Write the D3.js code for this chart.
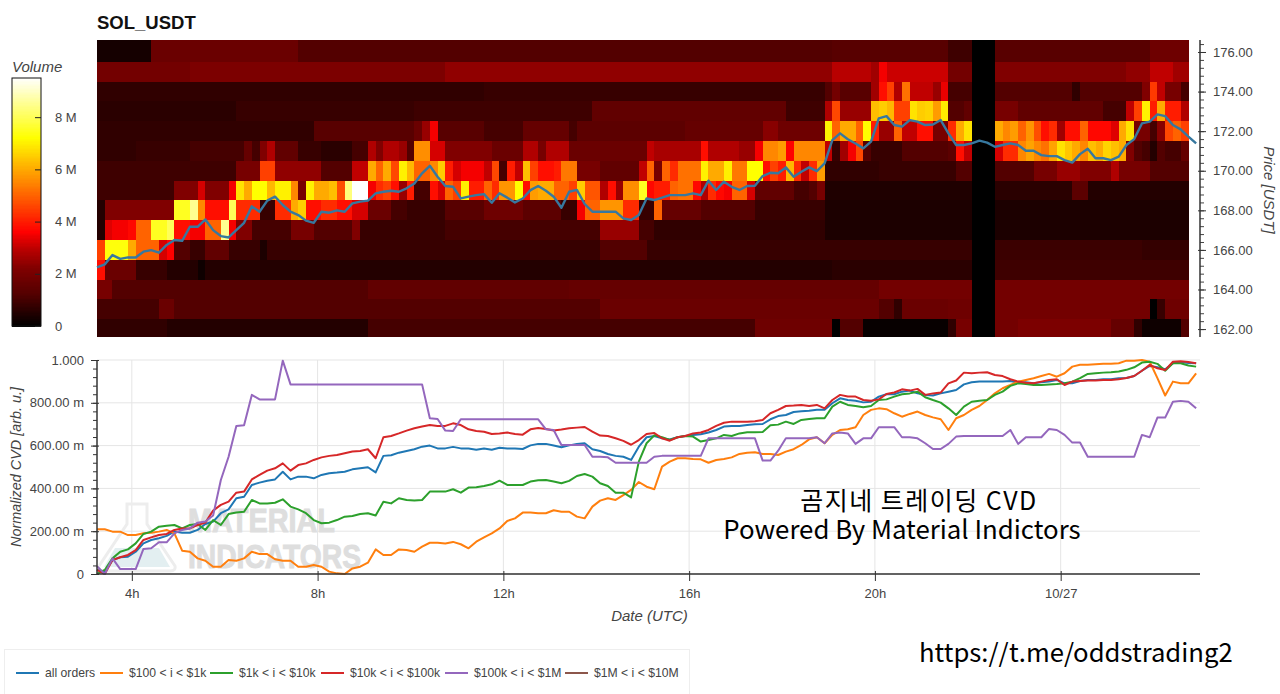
<!DOCTYPE html>
<html>
<head>
<meta charset="utf-8">
<script src="https://d3js.org/d3.v7.min.js"></script>
<style>
  body { margin: 0; background: #fff; }
  svg { display: block; }
  text { font-family: "Liberation Sans", Arial, sans-serif; }
  .axis-label { font-style: italic; font-size: 15px; fill: #444; }
  .tick text { font-size: 13px; fill: #444; font-family: "Liberation Sans", Arial, sans-serif; }
</style>
</head>
<body>
<svg id="chart" width="1280" height="694"></svg>
<script>
// volume per price level in millions, 10 min columns. a [n, v] pair is n columns in a row at v
var vol176 = [[7,.3],[19,1.7],[69,1.2],[15,1.3],[3,.9],[3,0],[20,1.3],[5,1.8]];
var vol175 = [[12,1.9],[33,2.1],[50,2.4],[5,2.9],2.6,3.5,[8,3.1],[3,1.9],[3,0],[17,2.2],[3,2.4],[3,3],[2,2.6]];
var vol174 = [[50,.7],[44,.8],1.2,1.9,[4,1.3],2.6,3.8,4.5,2.8,5.2,[3,3],2.5,3.4,[3,1],[3,0],[10,1.2],.7,[8,1.2],2.2,4.4,3,[2,2],1];
var vol173 = [[18,.6],[23,.8],[23,.9],[25,1.5],[5,.9],2.8,4.6,[4,2.5],6.3,6.5,6.2,4.5,4.5,6.8,6.5,6.6,5.8,6.9,1.2,1.2,1.5,[3,0],[3,2],[11,1.5],[3,1],3,4.5,7,4,6,4,4,2.8];
var vol172 = [[28,.7],[13,1.3],1.7,2.5,3.5,[6,1.3],[5,1],[6,1.6],1,[14,1.4],[10,1.6],2.3,2.3,[6,1.8],7,5,6,6,5,7.2,4,2.5,2.5,5,3,3,3.8,3.8,2,2,4.2,6,6.8,[3,0],6,5.5,5.8,5,5.7,4.7,3.8,4.2,2.6,3.8,3.8,5,3.7,3.7,3.7,3.3,6,6.8,2,2,1,2.3,4.6,5,4.5];
var vol171 = [[5,.7],[7,.8],[7,1],1.6,1,2.2,2.8,[3,1.5],[3,.8],[4,.6],[2,1],2.8,2.2,2.8,2.8,2.5,1.2,5.6,5.6,3.2,3.2,[6,2.2],[4,1.7],2.8,2.8,2,[3,2.8],[10,1.7],3,[6,2.7],3.8,[4,2.8],2.5,2.5,3.5,5.5,5.5,5.8,3.6,[3,5.5],5.5,3,.8,2.6,3.5,4.6,1.2,.8,[3,.8],[6,1.2],1.4,3.8,3,[3,0],3.2,4.2,4.2,5.5,5.9,5.5,5.2,5.9,6.8,6.4,6,5.5,6.3,6,6.6,6.3,6,2.2,1.2,1,.5,1.2,1,1,1.6];
var vol170 = [[18,.9],[3,2],4.5,4.5,[6,2.4],[4,1.2],3,3,6,5,6,4.6,7,6.2,5,5,5.5,6.5,4,3.2,[3,3.5],3,4.6,1,4,3,6.3,4.5,3.8,3.8,4,5.3,5.3,[3,2],[5,1.5],3,5,2,5,4.2,[3,5.2],7,6,6,7,5.3,5.3,7.2,7.2,3.8,4.5,4,6.2,4.2,3,4.2,5.8,[7,.7],[10,.8],1.2,1.2,[3,0],[5,1.2],[3,2],[3,2.5],[4,2.2],2.8,[4,2],[5,1.2]];
var vol169 = [[10,.9],[3,2.2],3.2,[3,2.2],3.5,6.8,6,7.2,7.2,6.2,7,7,5.5,2,7,6,6,6.3,4.7,8.3,9.5,9.5,3.5,4.2,4.5,3.8,2.5,4,1,1,3.8,3.2,5,4.5,7,4,4,5,4.2,5.7,5.7,7.2,3.8,5.8,6,6,5,5,4.5,6.5,4.8,4.8,2.8,3.8,2.5,5.6,5.6,7.5,3.7,4,4,5,5.2,5.2,3.7,2.8,4.2,3.7,3.5,5,5,3.2,[5,1.5],1,1,1.2,2,[19,.45],[3,0],[10,.6],1.4,1.4,[13,.5]];
var vol168 = [.5,[9,2.2],7.5,7.5,8.5,5.5,[3,3.8],8,[3,4.2],.8,.8,4.2,4.2,6,6.5,3.8,3.8,4.2,4.2,3.8,3.8,3.2,3.2,[3,1.7],1,1,[5,.8],[5,1.3],[5,1.8],[5,1.4],.8,.8,3.5,5,5,[3,5.7],4.2,4.2,.8,.8,5,[5,1.6],[7,1.2],[9,.8],[19,.4],[3,0],[25,.4]];
var vol167 = [.5,3.3,3.5,3.5,3.7,5,5,7.5,7.5,8,3.8,3.8,3.5,3.5,5,5,8.5,3.5,2.2,2.2,[5,1],[3,2],[5,1.2],2.2,[11,.8],[20,1],[5,2.5],1,1,[22,.7],[19,.4],[3,0],[25,.4]];
var vol166 = [4.5,[3,7.3],6,[3,5],3.2,3.6,1.2,1.2,.8,.8,[3,1.5],[4,.8],.4,[43,.8],[6,1.2],[42,.8],[3,0],[19,.85],[6,.75]];
var vol165 = [3.8,[4,1.7],[4,.8],[4,.5],.2,[81,.5],[18,.6],[3,0],[25,.9]];
var vol164 = [2,2,[33,1.2],[26,1.5],[40,1.6],[12,1.9],[3,0],[25,1.9]];
var vol163 = [[8,1],1.7,1.7,[55,1.2],[36,1.7],1.2,1.2,.7,[6,1.7],[3,1.8],[3,0],[20,1.9],0,.8,[3,1.8]];
var vol162 = [[9,.7],[26,.5],[50,1],[10,1.8],0,[3,1.2],.1,.1,[9,.1],.7,2,2,[3,0],[3,1.9],[12,2.1],[3,1.6],.7,[5,.2],1.2];

var priceLevels = [176,175,174,173,172,171,170,169,168,167,166,165,164,163,162];
var volumeRows = [vol176,vol175,vol174,vol173,vol172,vol171,vol170,vol169,vol168,vol167,vol166,vol165,vol164,vol163,vol162];

// last price, one reading per 10 min
var priceValues = [165.12,165.27,165.74,165.55,165.62,165.62,165.91,165.99,165.86,166.25,166.5,166.46,167.17,167.17,167.54,167,166.7,166.63,167,167.37,168.2,167.93,168.49,168.69,168.27,167.93,167.76,167.48,167.37,167.93,167.88,168,167.93,168.35,168.44,168.49,168.86,168.94,168.99,168.94,169.11,169.36,169.87,170.25,169.7,169.23,169.19,168.6,168.69,168.77,168.82,
  168.38,168.86,168.64,168.4,168.6,169.02,169.23,168.99,168.69,168.13,168.94,169.03,168.32,167.93,167.93,167.93,167.93,167.59,167.51,167.76,168.6,168.52,168.64,168.77,168.77,168.77,168.86,168.77,169.5,169.03,169.45,169.19,169.03,169.23,169.24,169.73,169.9,169.87,170.17,169.7,169.95,170.17,169.98,170.37,171.55,171.89,171.59,171.38,171.13,171.47,
  172.65,172.76,172.31,172.23,172.56,172.48,172.31,172.34,172.56,171.89,171.3,171.3,171.38,171.52,171.42,171.21,171.3,171.38,171.3,171.01,171.01,170.79,170.74,170.74,170.54,170.41,170.84,171.11,170.63,170.63,170.54,170.71,171.3,171.6,172.39,172.48,172.85,172.76,172.31,172.09,171.72,171.38];

// normalized CVD in milli units, one reading per 10 min
var cvdAll = [19,11,65,78,81,104,143,159,167,178,198,193,193,206,234,245,284,302,354,361,416,427,436,442,478,442,455,455,447,463,471,474,478,489,494,499,475,552,555,567,575,583,
  595,600,587,587,594,587,586,581,586,581,590,587,586,584,601,608,608,600,592,601,608,611,583,575,561,552,548,533,595,639,645,634,629,639,645,650,653,661,673,689,692,692,696,700,701,723,738,743,757,760,763,767,
  767,798,821,813,810,802,805,829,840,840,852,857,844,837,834,844,852,860,886,896,899,899,900,899,902,894,896,891,896,900,907,891,891,902,907,907,910,910,915,916,925,950,972,966,957,985,991,986,985];
var cvd100 = [209,209,198,198,182,182,190,193,198,206,190,109,104,73,62,34,34,65,62,73,104,93,93,69,62,62,34,34,42,34,11,3,0,26,34,53,115,89,89,115,112,104,
  128,146,146,143,150,139,120,151,171,190,213,248,260,287,287,284,284,298,291,291,268,260,315,343,354,346,369,393,430,408,396,502,525,541,541,537,536,520,533,537,545,561,567,569,561,561,556,572,583,603,629,639,
  611,650,673,676,686,743,767,774,770,751,735,748,759,743,732,723,673,728,743,767,785,813,844,868,883,899,907,915,925,935,922,938,969,978,978,980,982,982,985,997,997,1000,992,915,834,899,891,891,938];
var cvd1k = [0,19,73,104,115,143,187,198,221,226,229,213,229,234,206,252,229,280,287,291,346,330,330,333,349,315,302,284,252,237,240,252,268,271,280,284,273,338,330,354,346,343,
  346,385,385,385,396,380,404,405,411,419,436,416,416,416,432,438,439,432,424,435,458,467,455,424,411,380,380,358,525,611,648,639,626,639,645,642,619,626,634,650,645,657,662,662,664,695,698,712,701,720,724,728,
  728,782,805,790,785,779,785,813,816,829,840,844,852,826,813,801,774,743,782,805,810,813,837,852,879,891,888,883,883,886,888,891,899,915,935,938,941,943,946,954,966,988,992,982,950,985,985,974,969];
var cvd10k = [19,0,65,78,89,112,159,171,182,187,206,213,213,229,240,296,323,338,380,385,442,463,483,494,517,483,509,517,533,545,552,556,564,572,575,583,541,639,645,657,670,681,
  689,696,692,692,704,696,676,668,665,654,657,661,654,651,676,682,678,671,675,681,684,687,665,647,645,634,622,604,626,654,659,634,623,639,645,657,661,673,692,707,712,712,712,714,720,751,767,785,787,790,785,790,
  774,813,837,829,829,813,810,816,841,848,863,857,865,837,844,848,891,904,941,938,941,943,930,925,910,899,894,891,899,907,910,883,899,902,904,904,907,907,910,916,925,950,977,961,953,992,994,991,985];
var cvd100k = [37,0,73,23,23,23,117,120,148,148,190,206,213,240,245,273,439,548,692,695,837,816,816,816,997,886,886,886,886,886,886,886,886,886,886,886,886,886,886,886,886,886,
  886,728,724,670,668,723,723,723,723,723,723,723,723,723,723,723,676,673,603,603,603,603,548,548,545,520,520,520,520,520,548,552,552,552,552,552,552,634,634,634,634,634,634,634,530,530,576,634,634,634,634,639,
  611,657,661,657,608,634,634,686,686,686,639,639,634,611,584,584,608,642,645,645,645,645,645,645,673,608,639,639,639,678,673,650,614,614,548,548,548,548,548,548,548,650,639,731,731,805,809,805,774];

var cvdSeries = [cvdAll, cvd100, cvd1k, cvd10k, cvd100k];
var legendNames = ["all orders", "$100 < i < $1k", "$1k < i < $10k", "$10k < i < $100k", "$100k < i < $1M", "$1M < i < $10M"];
var seriesColors = ["#1f77b4", "#ff7f0e", "#2ca02c", "#d62728", "#9467bd", "#8c564b"];

var hourTicks = [4, 8, 12, 16, 20, 24];
var hourLabels = ["4h", "8h", "12h", "16h", "20h", "10/27"];
var priceTicks = [162,164,166,168,170,172,174,176];
var cvdTicks = [0,200,400,600,800,1000];
var volumeTicks = [0,2,4,6,8];

var columnMinutes = 10;
var startTime = Date.UTC(2024, 9, 26, 3, 15);
var colTime = function(i) { return new Date(startTime + i * columnMinutes * 60000); };

var svg = d3.select("#chart");

var xScale = d3.scaleUtc()
  .domain([new Date(startTime), new Date(Date.UTC(2024, 9, 27, 3, 0))])
  .range([97, 1200]);
var priceTop = 176.606;
var priceY = d3.scaleLinear().domain([161.6, priceTop]).range([337, 40]);
var cvdY = d3.scaleLinear().domain([0, 1000]).range([574, 360]);
var volumeY = d3.scaleLinear().domain([0, 9.5]).range([326, 78]);
var hotColor = d3.scaleLinear()
  .domain([0, 1.2, 2.2, 3, 3.6, 7.2, 9.5])
  .range(["#000000", "#530000", "#800000", "#c00000", "#ff0000", "#ffff00", "#ffffff"]);

var hourDate = function(h) { return new Date(Date.UTC(2024, 9, 26, h)); };

// ---------- heatmap ----------
svg.append("clipPath").attr("id", "heatClip").append("rect")
  .attr("x", 97).attr("y", 40).attr("width", 1103).attr("height", 297);

var heatCells = [];
volumeRows.forEach(function(row, r) {
  var values = row.flatMap(function(d) {
    return Array.isArray(d) ? d3.range(d[0]).map(function() { return d[1]; }) : [d];
  });
  values.forEach(function(v, c) {
    heatCells.push({ price: priceLevels[r], col: c, volume: v });
  });
});

// the top row runs up to the end of the price range
var cellTop = function(d) { return d.price === 176 ? priceY(priceTop) : priceY(d.price + 0.5); };

svg.append("g").attr("clip-path", "url(#heatClip)")
  .attr("shape-rendering", "crispEdges")
  .selectAll("rect")
  .data(heatCells)
  .enter()
  .append("rect")
  .attr("x", function(d) { return xScale(colTime(d.col)); })
  .attr("y", cellTop)
  .attr("width", function(d) { return xScale(colTime(d.col + 1)) - xScale(colTime(d.col)) + 0.5; })
  .attr("height", function(d) { return priceY(d.price - 0.5) - cellTop(d) + 0.5; })
  .attr("fill", function(d) { return hotColor(d.volume); });

// price line
var priceLine = d3.line()
  .x(function(d, i) { return xScale(colTime(i)); })
  .y(function(d) { return priceY(d); });

svg.append("path")
  .datum(priceValues)
  .attr("d", priceLine)
  .attr("fill", "none")
  .attr("stroke", "#37789f")
  .attr("stroke-width", 2.4)
  .attr("stroke-linejoin", "round");

// right axis with minor ticks
var priceMinor = d3.axisRight(priceY)
  .tickValues(d3.range(162, 176.7, 0.4))
  .tickSize(4).tickFormat("");
svg.append("g").attr("transform", "translate(1200,0)").call(priceMinor)
  .call(function(g) { g.select(".domain").remove(); })
  .selectAll("line").attr("stroke", "#444");

var priceAxis = d3.axisRight(priceY)
  .tickValues(priceTicks)
  .tickSize(6).tickPadding(7)
  .tickFormat(d3.format(".2f"));
var priceG = svg.append("g").attr("transform", "translate(1200,0)").call(priceAxis);
priceG.select(".domain").attr("stroke", "#333").attr("stroke-width", 1.5).attr("d", "M0,40V337");
priceG.selectAll("line").attr("stroke", "#333").attr("x1", -2);

svg.append("text").attr("class", "axis-label")
  .attr("transform", "translate(1264,190) rotate(90)")
  .attr("text-anchor", "middle")
  .text("Price [USDT]");

svg.append("text")
  .attr("x", 97).attr("y", 29)
  .attr("font-size", 18.5).attr("font-weight", "bold").attr("fill", "#111")
  .text("SOL_USDT");

// ---------- colour bar ----------
var barSteps = d3.range(0, 9.5, 0.05);
svg.append("g").attr("shape-rendering", "crispEdges")
  .selectAll("rect")
  .data(barSteps)
  .enter()
  .append("rect")
  .attr("x", 12).attr("width", 29)
  .attr("y", function(d) { return volumeY(d + 0.05); })
  .attr("height", function(d) { return volumeY(d) - volumeY(d + 0.05) + 0.5; })
  .attr("fill", function(d) { return hotColor(d); });

svg.append("rect")
  .attr("x", 12).attr("y", 78).attr("width", 29).attr("height", 248)
  .attr("fill", "none").attr("stroke", "#111").attr("stroke-width", 1);

var volumeAxis = d3.axisRight(volumeY)
  .tickValues(volumeTicks)
  .tickSize(-6).tickPadding(14)
  .tickFormat(function(d) { return d === 0 ? "0" : d + " M"; });
var volumeG = svg.append("g").attr("transform", "translate(41,0)").call(volumeAxis);
volumeG.select(".domain").remove();
volumeG.selectAll("line").attr("stroke", "#222");
volumeG.selectAll("text").attr("dy", "0.32em");

svg.append("text").attr("class", "axis-label")
  .attr("x", 12).attr("y", 72).text("Volume");

// ---------- CVD panel ----------
var grid = svg.append("g").attr("stroke", "#e5e5e5").attr("stroke-width", 1);
grid.selectAll(".hgrid")
  .data(cvdTicks)
  .enter().append("line").attr("class", "hgrid")
  .attr("x1", 97).attr("x2", 1200)
  .attr("y1", function(d) { return cvdY(d); })
  .attr("y2", function(d) { return cvdY(d); });
grid.selectAll(".vgrid")
  .data(hourTicks)
  .enter().append("line").attr("class", "vgrid")
  .attr("x1", function(d) { return xScale(hourDate(d)); })
  .attr("x2", function(d) { return xScale(hourDate(d)); })
  .attr("y1", 360).attr("y2", 574);

// watermark behind the lines
var mark = svg.append("g");
mark.append("path")
  .attr("d", "M127,504H147V524L175,566Q176,571 170,571H104Q98,571 99,566L127,524Z")
  .attr("fill", "none").attr("stroke", "#ededed").attr("stroke-width", 3);
mark.append("path")
  .attr("d", "M115,548H159L170,567H104Z")
  .attr("fill", "#e3eff1");
mark.append("text")
  .attr("x", 188).attr("y", 532)
  .attr("font-size", 34).attr("font-weight", "bold").attr("fill", "#dedede").attr("stroke", "#dedede")
  .attr("textLength", 147).attr("lengthAdjust", "spacingAndGlyphs")
  .text("MATERIAL");
mark.append("text")
  .attr("x", 188).attr("y", 568)
  .attr("font-size", 34).attr("font-weight", "bold").attr("fill", "#dedede").attr("stroke", "#dedede")
  .attr("textLength", 173).attr("lengthAdjust", "spacingAndGlyphs")
  .text("INDICATORS");

var cvdLine = d3.line()
  .x(function(d, i) { return xScale(colTime(i)); })
  .y(function(d) { return cvdY(d); });

svg.selectAll(".cvd")
  .data(cvdSeries)
  .enter()
  .append("path")
  .attr("class", "cvd")
  .attr("d", cvdLine)
  .attr("fill", "none")
  .attr("stroke", function(d, i) { return seriesColors[i]; })
  .attr("stroke-width", 2)
  .attr("stroke-linejoin", "round");

// axes
var cvdMinor = d3.axisLeft(cvdY).tickValues(d3.range(0, 1001, 40)).tickSize(4).tickFormat("");
svg.append("g").attr("transform", "translate(97,0)").call(cvdMinor)
  .call(function(g) { g.select(".domain").remove(); })
  .selectAll("line").attr("stroke", "#333");

var cvdAxis = d3.axisLeft(cvdY)
  .tickValues(cvdTicks)
  .tickSize(6).tickPadding(7)
  .tickFormat(function(d) {
    if (d === 0) return "0";
    if (d === 1000) return "1.000";
    return d3.format(".2f")(d) + " m";
  });
var cvdG = svg.append("g").attr("transform", "translate(97,0)").call(cvdAxis);
cvdG.select(".domain").attr("stroke", "#333").attr("stroke-width", 1.5).attr("d", "M0,360V574");
cvdG.selectAll("line").attr("stroke", "#333").attr("x1", 2);

var timeAxis = d3.axisBottom(xScale)
  .tickValues(hourTicks.map(hourDate))
  .tickSize(7).tickPadding(8)
  .tickFormat(function(d, i) { return hourLabels[i]; });
var timeG = svg.append("g").attr("transform", "translate(0,574)").call(timeAxis);
timeG.select(".domain").attr("stroke", "#333").attr("stroke-width", 1.5).attr("d", "M97,0H1200");
timeG.selectAll("line").attr("stroke", "#333").attr("y1", -3);

svg.append("text").attr("class", "axis-label")
  .attr("transform", "translate(21,467) rotate(-90)")
  .attr("text-anchor", "middle")
  .style("font-size", "14.4px")
  .text("Normalized CVD [arb. u.]");

svg.append("text").attr("class", "axis-label")
  .attr("x", 649.5).attr("y", 621)
  .attr("text-anchor", "middle")
  .text("Date (UTC)");

// ---------- overlay captions ----------
var captionFont = '"Noto Sans CJK KR", "Noto Sans", sans-serif';
var caption = svg.append("text")
  .attr("text-anchor", "middle")
  .style("font-family", captionFont).attr("fill", "#000");
caption.append("tspan")
  .attr("x", 919).attr("y", 510)
  .attr("font-size", 25).attr("letter-spacing", 1.5)
  .text("곰지네 트레이딩 CVD");
caption.append("tspan")
  .attr("x", 902).attr("y", 539)
  .attr("font-size", 25.8)
  .text("Powered By Material Indictors");
svg.append("text")
  .attr("x", 919).attr("y", 662)
  .style("font-family", captionFont).attr("font-size", 25.7).attr("fill", "#000")
  .text("https://t.me/oddstrading2");

// ---------- legend ----------
svg.append("rect")
  .attr("x", 4.5).attr("y", 649.5).attr("width", 685).attr("height", 50)
  .attr("fill", "#fff").attr("stroke", "#eeeeee");

var legendSwatchX = [16, 100, 210, 321, 445, 565];
var legend = svg.selectAll(".legend-item")
  .data(legendNames)
  .enter()
  .append("g")
  .attr("class", "legend-item")
  .attr("transform", function(d, i) { return "translate(" + legendSwatchX[i] + ",673)"; });

legend.append("line")
  .attr("x1", 0).attr("x2", 23)
  .attr("stroke", function(d, i) { return seriesColors[i]; })
  .attr("stroke-width", 2);

legend.append("text")
  .attr("x", 29).attr("y", 4)
  .attr("font-size", 12.2).attr("fill", "#444")
  .text(function(d) { return d; });
</script>
</body>
</html>
